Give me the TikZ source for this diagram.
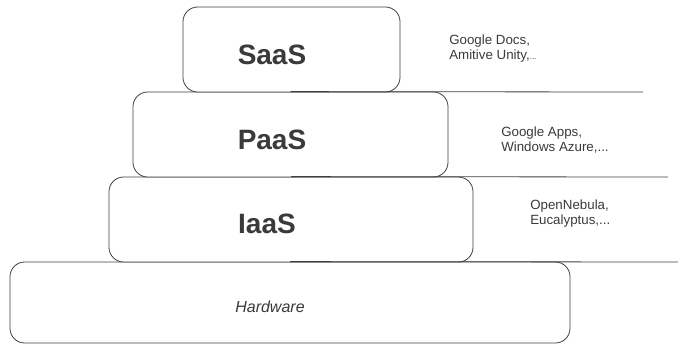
\documentclass[tikz,border=0pt]{standalone}
\usepackage{fontspec}
\setmainfont{Liberation Sans}
\usepackage{tikz}
\usetikzlibrary{positioning, calc}
\definecolor{layer_gray}{HTML}{404040}
\definecolor{text_gray}{HTML}{3a3a3a}

\begin{document}
\begin{tikzpicture}[
                x=0.75pt, y=-0.75pt,
                layer/.style={rectangle, draw=layer_gray, line width=0.6pt, fill=white, rounded corners=11pt, inner sep=0pt},
                title/.style={font=\fontsize{21}{24}\selectfont\bfseries, text=text_gray, inner sep=0pt},
                example/.style={font=\fontsize{10}{11}\selectfont, text=text_gray, align=left, anchor=north west, inner sep=0pt},
                rule/.style={draw=layer_gray, line width=0.6pt}
            ]
                \useasboundingbox (0,0) rectangle (678,344);

                % Layers
                \node (hw) [layer, minimum width=420pt, minimum height=60.75pt] at (290,302.5) {};
                \node (iaas) [layer, minimum width=273pt, minimum height=63.75pt] at (291,219.5) {};
                \node (paas) [layer, minimum width=236.25pt, minimum height=63.75pt] at (290.5,134.5) {};
                \node (saas) [layer, minimum width=162.75pt, minimum height=63.75pt] at (291.5,49.5) {};

                % Titles
                \node (saas_t) [title] at (272,55) {SaaS};
                \node (paas_t) [title] at (272,140) {PaaS};
                \node (iaas_t) [title] at (267,224) {IaaS};
                \node (hw_t) [font=\fontsize{12}{14}\selectfont\itshape, text=text_gray, inner sep=0pt] at (270,307) {Hardware};

                % Separators
                \coordinate (e1) at (643,92);
                \coordinate (e2) at (668,177);
                \coordinate (e3) at (690,262);
                \draw [rule] (paas.north) -- (e1);
                \draw [rule] (iaas.north) -- (e2);
                \draw [rule] (hw.north) -- (e3);

                % Examples
                \node (saas_ex) [example] at (449,35) {Google Docs,\\Amitive Unity,{\fontsize{6}{7}\selectfont...}};
                \node (paas_ex) [example] at (501,127) {Google Apps,\\Windows Azure,...};
                \node (iaas_ex) [example] at (530,200) {OpenNebula,\\Eucalyptus,...};
            \end{tikzpicture}
\end{document}
